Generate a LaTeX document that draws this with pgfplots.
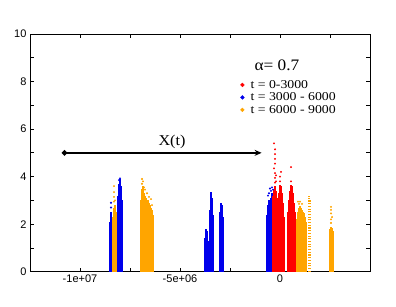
\documentclass[border=0pt]{standalone}
\usepackage{pgfplots}
\pgfplotsset{compat=1.18}
\usepackage{fontspec}
\setmainfont{Liberation Serif}
\setsansfont{Liberation Sans}
\newfontfamily\legfont[FakeStretch=1.15]{Liberation Serif}
\newfontfamily\titfont[FakeStretch=1.08]{Liberation Serif}
\usetikzlibrary{arrows.meta}
\definecolor{gred}{RGB}{255,0,0}
\definecolor{gblue}{RGB}{0,0,235}
\definecolor{gorange}{RGB}{255,165,0}
\pgfplotsset{
  comb/.style={ycomb, line width=1.1pt, forget plot},
  dots/.style={only marks, mark=*, mark size=0.75pt, forget plot},
  sparsecol/.style={ycomb, line width=1.2pt, dash pattern=on 1.1pt off 1.6pt, forget plot},
}
\begin{document}
\begin{tikzpicture}
\useasboundingbox (-30pt,-34.3pt) rectangle (366pt,271.7pt);
\begin{axis}[
  at={(0,0)}, anchor=south west,
  scale only axis, width=340pt, height=237.7pt,
  xmin=-12.5, xmax=4.5, ymin=0, ymax=10,
  xtick={-10,-5,0}, xticklabels={-1e+07,-5e+06,0},
  minor xtick={-7.5,-2.5,2.5},
  ytick={0,2,...,10}, minor ytick={1,3,...,9},
  tick align=inside, major tick length=4pt, minor tick length=4pt,
  tick style={black, line width=0.8pt},
  axis line style={line width=1pt},
  tick label style={font=\sffamily\fontsize{11}{11}\selectfont},
  /pgf/number format/assume math mode=true,
  legend style={at={(0.618,0.815)}, anchor=north west, draw=none, fill=none,
    font=\legfont\fontsize{12}{12.5}\selectfont, row sep=-1pt, inner sep=0pt},
  legend cell align=left,
]
% blue
\addplot[comb, gblue] coordinates {
(-8.50,2.1) (-8.45,2.5) (-8.40,2.3)
(-8.10,3.2) (-8.05,3.7) (-8.00,3.9) (-7.95,3.6) (-7.90,3.0)
(-3.75,1.4) (-3.70,1.8) (-3.65,1.7) (-3.60,1.3)
(-3.50,2.6) (-3.45,3.37) (-3.40,3.1) (-3.35,2.4)
(-3.00,2.5) (-2.95,2.88) (-2.90,2.8) (-2.85,2.3)
(-0.65,2.4) (-0.60,2.8) (-0.55,3.0) (-0.50,2.9) (-0.45,3.1) (-0.40,3.3) (-0.35,3.2) (-0.30,3.0) (-0.25,2.9) (-0.20,2.8) (-0.15,2.6)
};
\addplot[dots, gblue] coordinates {
(-8.45,2.7) (-8.45,2.9) (-8.00,3.93) (-8.05,3.85)
(-0.60,3.2) (-0.55,3.3) (-0.50,3.5) (-0.45,3.4) (-0.40,3.55) (-0.35,3.45)
};
% red
\addplot[comb, gred] coordinates {
(-0.35,3.2) (-0.30,3.5) (-0.25,3.6) (-0.20,3.4) (-0.15,3.1) (-0.10,2.9)
(-0.05,3.3) (0.00,3.65) (0.05,3.6) (0.10,3.3) (0.15,2.9) (0.20,2.3)
(0.40,2.5) (0.45,3.0) (0.50,3.4) (0.55,3.65) (0.60,3.6) (0.65,3.3) (0.70,2.9) (0.75,2.5)
};
\addplot[dots, gred] coordinates {
(-0.25,3.75) (-0.25,3.95) (-0.25,4.15) (-0.30,4.35) (-0.25,4.55) (-0.25,4.75) (-0.25,4.95) (-0.25,5.15) (-0.30,5.4)
(-0.20,3.8) (-0.20,4.05) (0.00,3.8) (0.00,4.0) (0.05,4.2) (0.55,4.4) (0.55,3.8)
};
% orange
\addplot[comb, gorange] coordinates {
(-8.35,2.3) (-8.30,2.7) (-8.25,2.8) (-8.20,2.5)
(-6.95,3.0) (-6.90,3.5) (-6.85,3.6) (-6.80,3.3) (-6.75,3.2) (-6.70,3.1) (-6.65,3.0) (-6.60,3.0) (-6.55,2.9) (-6.50,2.8) (-6.45,2.7) (-6.40,2.6) (-6.35,2.4)
(0.85,2.2) (0.90,2.5) (0.95,2.7) (1.00,2.75) (1.05,2.7) (1.10,2.6) (1.15,2.5) (1.20,2.45) (1.25,2.3) (1.30,2.1)
(2.50,1.8) (2.55,1.9) (2.60,1.85) (2.65,1.7)
};
\addplot[sparsecol, gorange] coordinates {(1.45,3.2) (1.52,3.0)};
\addplot[dots, gorange] coordinates {
(-8.30,2.95) (-8.30,3.15) (-8.30,3.35) (-8.30,3.6) (-8.25,3.0)
(-6.90,3.7) (-6.90,3.9) (-6.85,3.8) (-6.80,3.55) (-6.75,3.45) (-6.65,3.3) (-6.55,3.15) (-6.45,3.05) (-6.40,2.8)
(0.90,2.95) (1.00,2.95) (1.10,2.85) (0.95,2.85)
(2.55,2.05) (2.55,2.2) (2.60,2.3) (2.55,2.45) (2.55,2.6) (2.55,2.73)
};
% legend
\addlegendimage{gred, legend image code/.code={\fill[gred] (0pt,0pt) circle (1.9pt);}}
\addlegendentry{\hspace{4pt}t = 0-3000}
\addlegendimage{gblue, legend image code/.code={\fill[gblue] (0pt,0pt) circle (1.9pt);}}
\addlegendentry{\hspace{4pt}t = 3000 - 6000}
\addlegendimage{gorange, legend image code/.code={\fill[gorange] (0pt,0pt) circle (1.9pt);}}
\addlegendentry{\hspace{4pt}t = 6000 - 9000}
% annotations
\draw[line width=2.2pt, {Circle[length=5pt]}-{Stealth[length=7pt,width=6pt]}] (axis cs:-10.9,5) -- (axis cs:-0.92,5);
\node[font=\titfont\fontsize{15}{15}\selectfont] at (axis cs:-5.4,5.48) {X(t)};
\node[font=\titfont\fontsize{16}{16}\selectfont] at (axis cs:-0.15,8.67) {α= 0.7};
\end{axis}
\end{tikzpicture}
\end{document}
